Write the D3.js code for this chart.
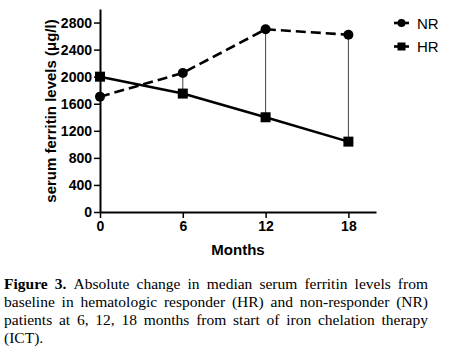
<!DOCTYPE html>
<html><head><meta charset="utf-8">
<script src="https://cdn.jsdelivr.net/npm/d3@7"></script>
<style>body{margin:0;background:#fff}svg{display:block}</style>
</head><body>
<svg id="c" width="452" height="347"></svg>
<script>
const months = [0, 6, 12, 18];
const nrValues = [1705, 2055, 2700, 2620];
const hrValues = [2000, 1750, 1400, 1040];
const yTicks = [0, 400, 800, 1200, 1600, 2000, 2400, 2800];
const xTicks = [0, 6, 12, 18];
const seriesNames = ["NR", "HR"];
const captionLines = [
  "Figure 3. Absolute change in median serum ferritin levels  from",
  "baseline in hematologic responder (HR) and non-responder (NR)",
  "patients at 6, 12, 18 months from start of iron chelation therapy",
  "(ICT)."
];

const svg = d3.select("#c");
const x = d3.scaleLinear().domain([0, 20]).range([100, 376]);
const y = d3.scaleLinear().domain([0, 3000]).range([212, 9]);
const AF = "Arial, 'Liberation Sans', sans-serif";

// axes
const yAxis = svg.append("g").attr("transform", "translate(100,0)")
  .call(d3.axisLeft(y).tickValues(yTicks).tickFormat(d3.format("d")).tickSize(6).tickPadding(2).tickSizeOuter(0));
const xAxis = svg.append("g").attr("transform", "translate(0,212)")
  .call(d3.axisBottom(x).tickValues(xTicks).tickFormat(d3.format("d")).tickSize(6).tickPadding(3).tickSizeOuter(0));
[yAxis, xAxis].forEach(g => {
  g.select(".domain").attr("stroke", "#000").attr("stroke-width", 2);
  g.selectAll(".tick line").attr("stroke", "#000").attr("stroke-width", 1.5);
  g.selectAll(".tick text").attr("fill", "#000").attr("font-family", AF)
    .attr("font-weight", "bold").attr("font-size", 14);
});

// axis titles
svg.append("text").attr("transform", "translate(50,111) rotate(-90)")
  .attr("text-anchor", "middle").attr("dominant-baseline", "central")
  .attr("font-family", AF).attr("font-weight", "bold").attr("font-size", 15)
  .text("serum ferritin levels (\u03bcg/l)");
svg.append("text").attr("x", 238).attr("y", 255)
  .attr("text-anchor", "middle").attr("font-family", AF)
  .attr("font-weight", "bold").attr("font-size", 15).text("Months");

// connectors (error bars)
svg.append("g").selectAll("line").data(months.slice(1).map((m, i) => ({m, a: nrValues[i+1], b: hrValues[i+1]})))
  .join("line")
  .attr("x1", d => x(d.m)).attr("x2", d => x(d.m))
  .attr("y1", d => y(d.a)).attr("y2", d => y(d.b))
  .attr("stroke", "#444").attr("stroke-width", 1);

const line = d3.line().x(d => x(d[0])).y(d => y(d[1]));
const nrData = months.map((m, i) => [m, nrValues[i]]);
const hrData = months.map((m, i) => [m, hrValues[i]]);

svg.append("path").datum(nrData).attr("d", line).attr("fill", "none")
  .attr("stroke", "#000").attr("stroke-width", 2.6).attr("stroke-dasharray", "10,5");
svg.append("path").datum(hrData).attr("d", line).attr("fill", "none")
  .attr("stroke", "#000").attr("stroke-width", 2.6);

svg.append("g").selectAll("circle").data(nrData).join("circle")
  .attr("cx", d => x(d[0])).attr("cy", d => y(d[1])).attr("r", 5).attr("fill", "#000");
svg.append("g").selectAll("rect").data(hrData).join("rect")
  .attr("x", d => x(d[0]) - 5).attr("y", d => y(d[1]) - 5)
  .attr("width", 10).attr("height", 10).attr("fill", "#000");

// legend
const leg = svg.append("g");
seriesNames.forEach((name, i) => {
  const cy = 23 + i * 23.5;
  leg.append("line").attr("x1", 394).attr("x2", 409).attr("y1", cy).attr("y2", cy)
    .attr("stroke", "#000").attr("stroke-width", 2.6);
  if (i === 0) leg.append("circle").attr("cx", 401.5).attr("cy", cy).attr("r", 4).attr("fill", "#000");
  else leg.append("rect").attr("x", 397.5).attr("y", cy - 4).attr("width", 8).attr("height", 8).attr("fill", "#000");
  leg.append("text").attr("x", 417).attr("y", cy).attr("dominant-baseline", "central")
    .attr("font-family", AF).attr("font-size", 15).text(name);
});

// caption, justified
const cap = svg.append("g").attr("font-family", "'Liberation Serif', 'Times New Roman', serif").attr("font-size", 15.5).attr("fill", "#000");
const left = 4, right = 428;
captionLines.forEach((ln, li) => {
  const base = 289 + li * 18;
  const words = ln.split(/\s+/);
  const els = words.map((w, wi) => {
    const t = cap.append("text").attr("y", base);
    if (li === 0 && wi < 2) t.attr("font-weight", "bold");
    t.text(w);
    return t;
  });
  const widths = els.map(t => t.node().getComputedTextLength());
  const total = d3.sum(widths);
  const last = li === captionLines.length - 1;
  const gap = last ? 4 : (right - left - total) / (words.length - 1);
  let cx = left;
  els.forEach((t, i) => { t.attr("x", cx); cx += widths[i] + gap; });
});
</script>
</body></html>
